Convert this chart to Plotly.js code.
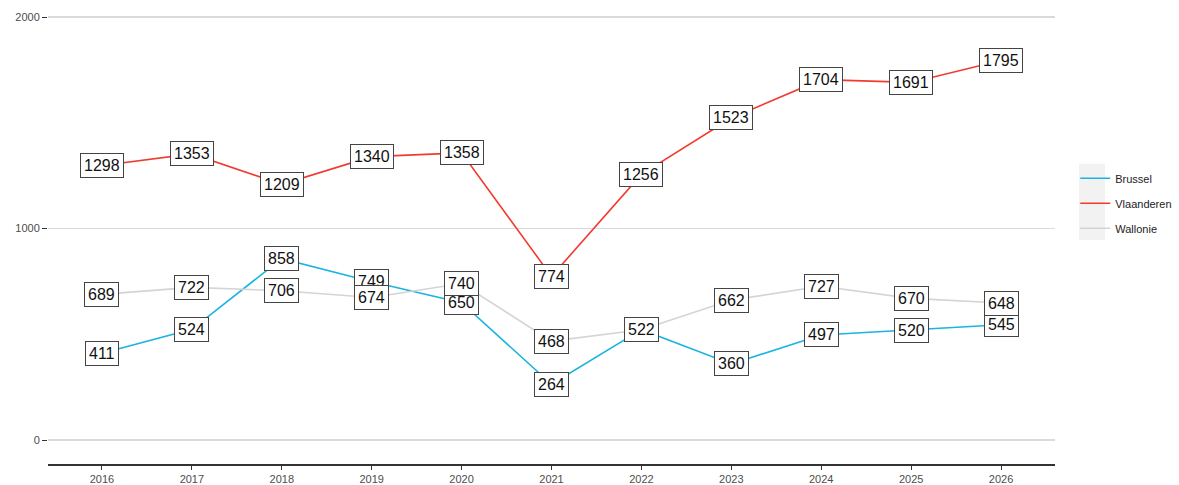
<!DOCTYPE html>
<html><head><meta charset="utf-8">
<script src="https://cdn.plot.ly/plotly-3.0.1.min.js"></script>
<style>html,body{margin:0;padding:0;background:#fff}#chart{width:1179px;height:485px}</style>
</head><body><div id="chart"></div>
<script>
const years = [2016,2017,2018,2019,2020,2021,2022,2023,2024,2025,2026];
const brussel = [411,524,858,749,650,264,522,360,497,520,545];
const vlaanderen = [1298,1353,1209,1340,1358,774,1256,1523,1704,1691,1795];
const wallonie = [689,722,706,674,740,468,522,662,727,670,648];
const seriesNames = ["Brussel","Vlaanderen","Wallonie"];
const seriesColors = ["#1AB4E0","#F23B30","#D4D4D4"];
const seriesData = [brussel, vlaanderen, wallonie];

const traces = seriesData.map((d,i)=>({
  x: years, y: d, type:'scatter', mode:'lines', name: seriesNames[i], legendgroup: seriesNames[i],
  line:{color:seriesColors[i], width:1.6}, hoverinfo:'skip'
}));
const annotations = [];
seriesData.forEach(d=>{
  d.forEach((v,j)=>{
    annotations.push({x:years[j], y:v, xref:'x', yref:'y', text:String(v), showarrow:false,
      font:{family:'Liberation Sans, Arial, sans-serif', size:16, color:'#111'},
      bgcolor:'#ffffff', bordercolor:'#444', borderwidth:1, borderpad:3});
  });
});
const layout = {
  width:1179, height:485,
  margin:{l:48, r:124, t:5, b:21},
  paper_bgcolor:'#fff', plot_bgcolor:'#fff',
  font:{family:'Liberation Sans, Arial, sans-serif'},
  xaxis:{range:[2015.4,2026.6], tickvals:years, ticktext:years.map(String), showgrid:false, zeroline:false,
    showline:true, linecolor:'#333', linewidth:1.5, ticks:'outside', ticklen:4, tickcolor:'#333',
    tickfont:{size:11, color:'#4d4d4d'}},
  yaxis:{range:[-113,2057], tickvals:[0,1000,2000], ticktext:['0','1000','2000'], showgrid:true, gridcolor:'#DADADA', gridwidth:1.5,
    zeroline:false, showline:false, ticks:'outside', ticklen:5, tickcolor:'#333',
    tickfont:{size:11, color:'#4d4d4d'}},
  legend:{xref:'container', yref:'container', x:0.912, xanchor:'left', y:0.581, yanchor:'middle', bgcolor:'rgba(0,0,0,0)', font:{size:11, color:'#222'},
    itemwidth:30, tracegroupgap:6},
  shapes:[{type:'rect', xref:'paper', yref:'paper', x0:1.0238, x1:1.0496, y0:0.488, y1:0.654, fillcolor:'#F2F2F2', line:{width:0}, layer:'below'}],
  annotations: annotations,
  showlegend:true
};
Plotly.newPlot('chart', traces, layout, {staticPlot:true});
</script></body></html>
